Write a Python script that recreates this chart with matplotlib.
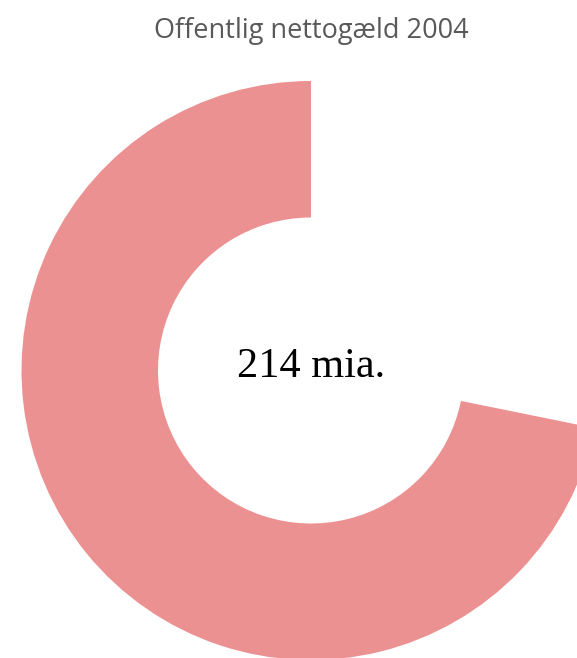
import matplotlib
matplotlib.use('Agg')
import matplotlib.pyplot as plt

# 数据
title_text = 'Offentlig nettogæld 2004'
center_label = '214 mia.'
labels = ['Nettogæld', 'Rest']
values = [214, 84]
colors = ['#EC9191', 'none']

W, H = 577, 658


def create_donut():
    """创建环形图"""
    fig = plt.figure(figsize=(W / 100, H / 100), dpi=100)
    fig.patch.set_facecolor('white')

    # 圆心 (311, 370.5) px, 外半径 289.5 px
    cx, cy, r_out, r_in = 311, 370.5, 289.5, 153
    ax = fig.add_axes([(cx - r_out) / W, (H - cy - r_out) / H,
                       2 * r_out / W, 2 * r_out / H])
    ax.pie(values, labels=None, colors=colors, startangle=90,
           counterclock=True, radius=1,
           wedgeprops=dict(width=(r_out - r_in) / r_out, linewidth=0))
    ax.set_xlim(-1, 1)
    ax.set_ylim(-1, 1)
    ax.set_aspect('equal')
    ax.axis('off')

    # 标题
    fig.text(cx / W, 1 - 38 / H, title_text, ha='center', va='baseline',
             fontsize=19.5, color='#595959', family='Open Sans')

    # 中心文字
    fig.text(cx / W, 1 - 377 / H, center_label, ha='center', va='baseline',
             fontsize=30.5, color='black', family='Liberation Serif')

    fig.savefig('out.png', dpi=100)


if __name__ == "__main__":
    create_donut()
